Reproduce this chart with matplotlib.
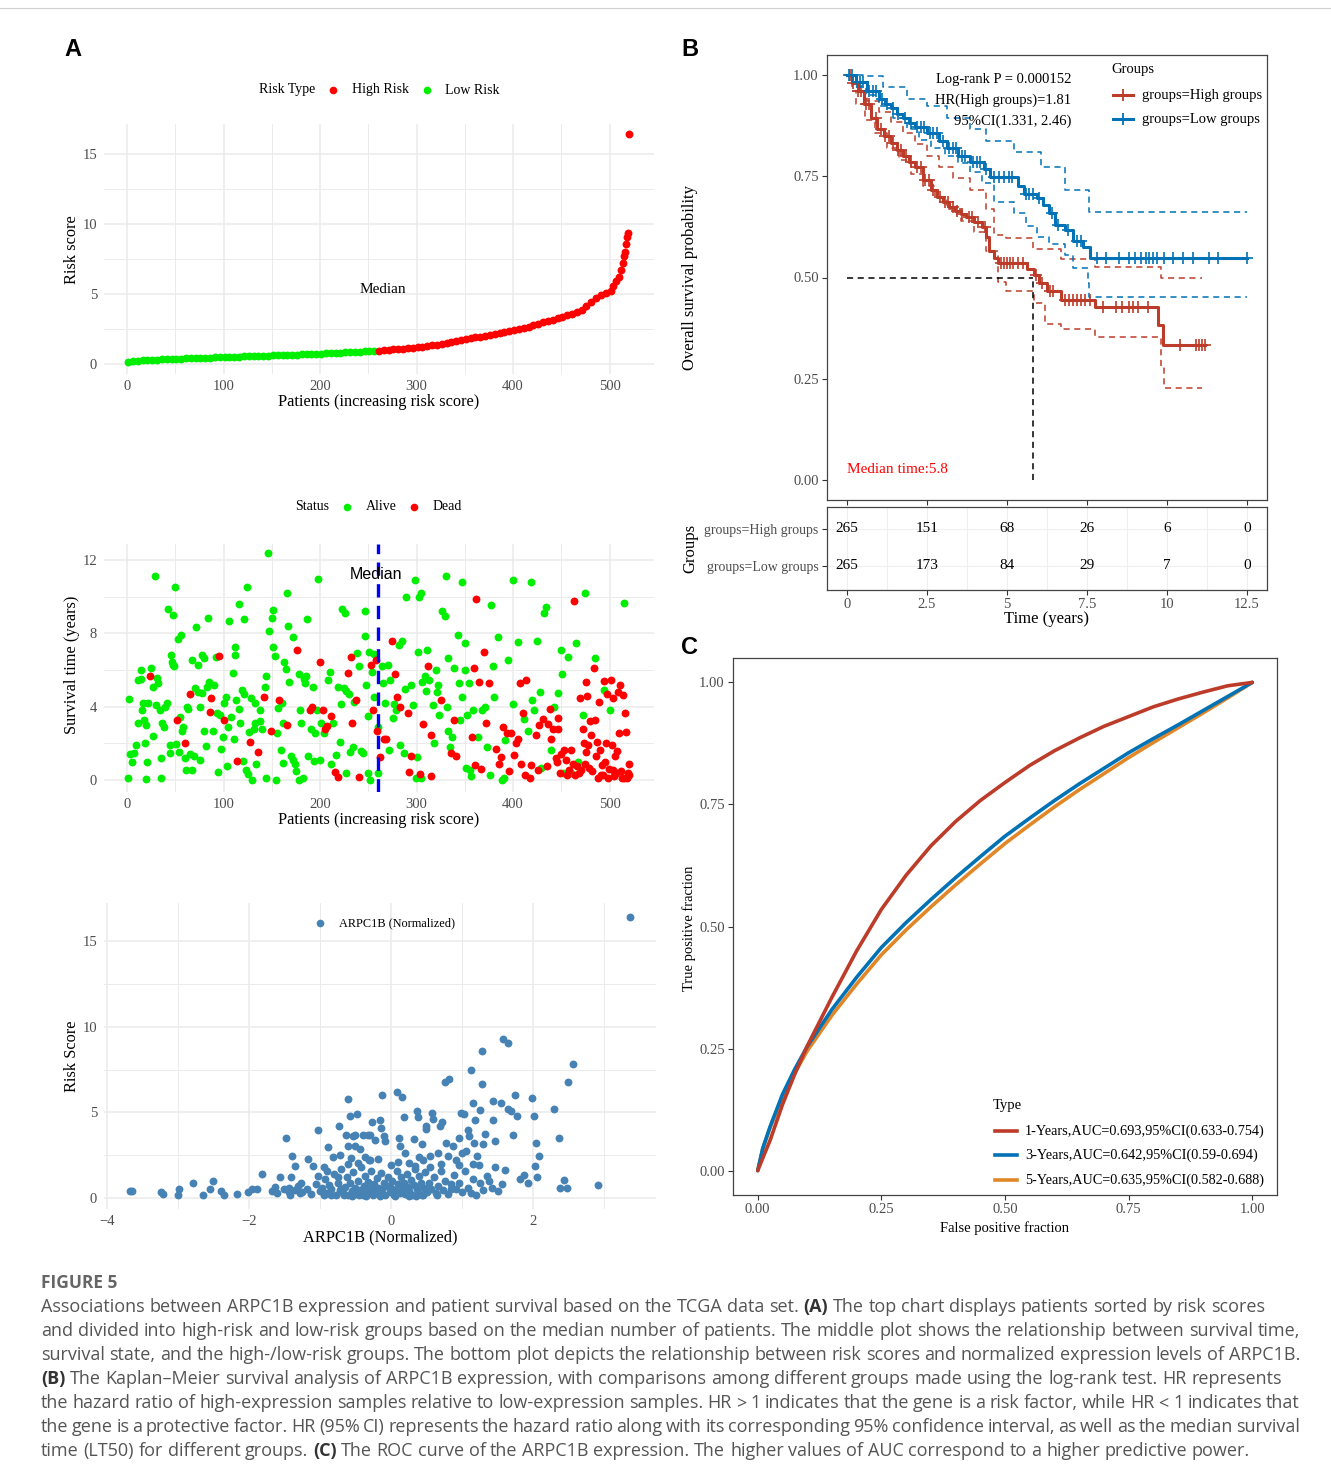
import matplotlib
matplotlib.use("Agg")
import matplotlib.pyplot as plt
import numpy as np
from matplotlib.lines import Line2D

# ── data ─────────────────────────────────────────────────────────────────────

# panel A top: sorted risk score (read every ~5 patients)
risk_patient = [1, 6, 11, 16, 21, 26, 31, 36, 41, 46, 51, 56, 61, 66, 71, 76, 81, 86,
                91, 96, 101, 106, 111, 116, 121, 126, 131, 136, 141, 146, 151, 156,
                161, 166, 171, 176, 181, 186, 191, 196, 201, 206, 211, 216, 221, 226,
                231, 236, 241, 246, 251, 256, 261, 266, 271, 276, 281, 286, 291, 296,
                301, 306, 311, 316, 321, 326, 331, 336, 341, 346, 351, 356, 361, 366,
                371, 376, 381, 386, 391, 396, 401, 406, 411, 416, 421, 426, 431, 436,
                441, 446, 451, 456, 461, 466, 471, 476, 481, 486, 491, 496, 501, 504,
                507, 510, 512, 514, 515, 516, 517, 518, 519, 520]
risk_score = [0.12, 0.20, 0.24, 0.27, 0.28, 0.30, 0.31, 0.33, 0.35, 0.36, 0.38, 0.39,
              0.40, 0.41, 0.43, 0.44, 0.45, 0.46, 0.47, 0.49, 0.50, 0.51, 0.52, 0.53,
              0.54, 0.55, 0.57, 0.58, 0.59, 0.60, 0.62, 0.63, 0.64, 0.66, 0.67, 0.68,
              0.70, 0.71, 0.72, 0.74, 0.75, 0.77, 0.78, 0.80, 0.81, 0.83, 0.85, 0.86,
              0.88, 0.90, 0.92, 0.94, 0.96, 0.99, 1.02, 1.05, 1.08, 1.11, 1.14, 1.18,
              1.21, 1.25, 1.29, 1.33, 1.38, 1.43, 1.50, 1.58, 1.66, 1.72, 1.78, 1.84,
              1.90, 1.96, 2.02, 2.09, 2.16, 2.22, 2.29, 2.36, 2.44, 2.52, 2.60, 2.68,
              2.78, 2.88, 2.98, 3.06, 3.15, 3.26, 3.38, 3.50, 3.60, 3.72, 3.86, 4.15,
              4.45, 4.70, 4.90, 5.05, 5.20, 5.60, 5.95, 6.25, 6.70, 7.20, 7.70, 8.00,
              8.60, 9.10, 9.35, 16.4]
median_patient = 260

# panel A middle: (patient, survival years) by status
alive_pts = np.array([
    (1, 0.13), (2, 4.4), (3, 1.4), (5, 1.0), (7, 1.45), (9, 1.9), (11, 3.1), (11, 5.45),
    (14, 5.5), (14, 6.0), (15, 3.8), (16, 4.2), (17, 3.3), (18, 2.0), (20, 3.0), (20, 0.05),
    (21, 1.0), (22, 4.2), (25, 6.1), (27, 2.4), (27, 5.1), (29, 11.1), (30, 4.1), (31, 5.55),
    (32, 5.3), (34, 3.8), (35, 1.2), (35, 0.13), (36, 3.1), (38, 2.9), (39, 4.0), (41, 4.2),
    (42, 9.3), (44, 1.9), (44, 1.45), (45, 6.8), (46, 6.45), (47, 6.3), (48, 9.0), (49, 6.2),
    (50, 10.5), (51, 1.95), (53, 7.7), (56, 7.9), (54, 1.55), (55, 3.45), (57, 2.7), (58, 2.9),
    (60, 1.2), (61, 0.55), (67, 0.55), (62, 4.0), (63, 3.85), (65, 1.4), (67, 6.55), (69, 1.3),
    (70, 5.0), (71, 8.35), (73, 6.3), (73, 4.8), (75, 4.0), (76, 1.1), (78, 4.75), (78, 6.8),
    (80, 6.65), (80, 2.7), (82, 1.85), (83, 5.05), (84, 8.85), (85, 5.35), (89, 2.65), (90, 5.2),
    (92, 6.7), (93, 3.65), (94, 0.45), (96, 3.55), (97, 1.7), (99, 2.35), (100, 4.2), (102, 4.55),
    (103, 0.75), (105, 2.9), (106, 8.65), (108, 3.45), (110, 5.85), (111, 2.25), (112, 7.25),
    (112, 6.8), (113, 4.35), (116, 3.85), (116, 9.6), (117, 3.1), (119, 4.9), (121, 4.7),
    (120, 1.05), (121, 8.8), (123, 0.55), (125, 0.35), (124, 10.5), (126, 2.6), (128, 4.45),
    (129, 0.0), (131, 2.8), (133, 4.2), (133, 3.1), (134, 0.9), (138, 3.2), (138, 3.8),
    (140, 2.8), (143, 5.1), (144, 0.13), (144, 5.7), (146, 12.4), (147, 8.1), (150, 8.85),
    (151, 9.25), (151, 7.25), (153, 6.75), (154, 0.0), (155, 2.55), (156, 3.95), (159, 1.65),
    (160, 4.2), (161, 0.95), (162, 3.1), (163, 6.45), (165, 6.05), (166, 10.2), (167, 8.4),
    (168, 5.35), (170, 1.3), (172, 7.8), (172, 1.1), (174, 0.9), (175, 0.5), (178, 5.8),
    (178, 0.03), (179, 3.8), (180, 3.1), (182, 0.13), (183, 5.5), (185, 5.65), (184, 5.3),
    (186, 8.8), (187, 1.3), (191, 2.8), (193, 5.1), (194, 1.05), (195, 2.55), (197, 3.8),
    (198, 10.95), (200, 1.1), (201, 3.1), (204, 2.55), (208, 5.45), (210, 5.9), (211, 0.9),
    (213, 3.1), (216, 1.35), (218, 5.1), (221, 2.1), (222, 4.15), (223, 9.35), (226, 9.1),
    (225, 5.0), (227, 0.4), (227, 4.85), (230, 4.7), (231, 1.55), (234, 1.8), (235, 4.25),
    (238, 6.95), (240, 6.2), (242, 1.6), (244, 1.5), (246, 7.85), (247, 9.2), (248, 5.2),
    (250, 3.5), (250, 0.37), (251, 7.0), (252, 0.03), (254, 5.9), (256, 4.55), (256, 6.9),
    (260, 0.4), (260, 2.9), (264, 6.2), (265, 5.3), (267, 4.2), (270, 6.25), (271, 1.65),
    (272, 5.45), (276, 3.4), (277, 4.15), (279, 3.8), (282, 7.35), (283, 1.9), (285, 7.6),
    (287, 1.45), (288, 4.95), (289, 10.0), (294, 5.2), (296, 4.1), (298, 10.9), (299, 0.13),
    (300, 1.25), (301, 7.0), (302, 10.0), (305, 10.2), (305, 0.1), (306, 5.35), (309, 5.7),
    (310, 4.85), (311, 7.1), (313, 5.45), (317, 4.1), (318, 2.0), (320, 6.0), (321, 4.8),
    (322, 5.2), (323, 3.55), (326, 9.2), (330, 11.1), (329, 8.95), (331, 4.0), (333, 2.7),
    (333, 6.65), (335, 1.8), (337, 2.35), (339, 6.1), (343, 7.9), (344, 5.3), (345, 3.25),
    (347, 10.8), (347, 4.55), (350, 7.45), (350, 6.0), (351, 0.65), (352, 3.55), (354, 5.3),
    (355, 0.55), (356, 0.2), (358, 3.8), (364, 2.35), (368, 3.8), (371, 4.0), (373, 1.8),
    (376, 0.27), (377, 9.55), (379, 6.2), (380, 4.55), (384, 7.8), (388, 0.03), (391, 0.1),
    (392, 2.2), (395, 6.55), (400, 10.9), (400, 4.15), (405, 7.55), (411, 3.35), (415, 2.7),
    (419, 10.8), (420, 4.35), (422, 3.8), (425, 7.6), (428, 4.8), (429, 0.65), (432, 9.1),
    (434, 9.45), (439, 1.65), (442, 4.0), (446, 4.75), (450, 7.1), (451, 5.8), (452, 0.4),
    (457, 6.7), (460, 0.37), (465, 7.5), (467, 1.0), (472, 3.55), (475, 10.2), (485, 6.65),
    (494, 4.9), (500, 3.8), (515, 9.65)])
dead_pts = np.array([
    (24, 5.7), (52, 3.25), (60, 2.0), (65, 4.7), (86, 3.7), (87, 4.45), (95, 6.75), (100, 3.3),
    (114, 1.05), (127, 2.05), (136, 1.55), (142, 4.55), (149, 2.65), (157, 4.35), (166, 3.0),
    (176, 7.1), (189, 3.8), (192, 4.0), (200, 6.45), (203, 3.8), (205, 2.8), (207, 2.95),
    (211, 3.5), (215, 0.45), (219, 0.18), (229, 5.85), (232, 6.7), (233, 3.1), (237, 4.35),
    (240, 0.18), (253, 6.3), (255, 3.8), (258, 6.55), (259, 2.7), (262, 1.25), (266, 2.25),
    (268, 2.25), (274, 7.6), (278, 5.8), (280, 4.55), (283, 4.0), (291, 3.65), (292, 0.45),
    (294, 1.3), (304, 0.35), (307, 3.05), (312, 6.2), (315, 2.45), (315, 0.2), (325, 4.35),
    (336, 1.45), (339, 3.25), (341, 1.3), (357, 2.35), (359, 6.1), (360, 0.8), (362, 9.85),
    (365, 5.35), (367, 0.6), (370, 7.0), (372, 3.1), (375, 5.3), (382, 1.7), (385, 0.9),
    (387, 1.25), (390, 2.9), (394, 2.55), (396, 0.5), (398, 2.55), (401, 1.35), (403, 2.0),
    (405, 2.25), (407, 5.3), (408, 0.9), (410, 3.65), (412, 0.27), (413, 5.45), (417, 0.1),
    (419, 0.8), (424, 2.45), (426, 0.55), (427, 3.0), (431, 3.35), (435, 0.75), (436, 3.05),
    (438, 3.9), (439, 2.25), (441, 2.8), (444, 1.2), (446, 3.4), (447, 2.8), (449, 0.37),
    (453, 1.65), (455, 1.1), (458, 0.55), (460, 1.65), (462, 0.9), (463, 9.75), (464, 0.27),
    (466, 0.75), (469, 4.45), (470, 0.55), (473, 2.0), (476, 1.55), (476, 5.35), (477, 4.6),
    (479, 0.65), (481, 2.45), (484, 6.1), (485, 3.25), (487, 2.1), (488, 0.13), (489, 4.25),
    (490, 1.65), (492, 0.8), (493, 0.27), (496, 2.0), (497, 4.7), (498, 0.1), (501, 5.45),
    (503, 0.55), (504, 4.45), (506, 1.3), (507, 0.37), (510, 2.55), (511, 5.2), (513, 0.13),
    (514, 4.65), (516, 3.65), (518, 0.13), (520, 0.9), (520, 0.27), (445, 1.0), (450, 1.4),
    (456, 0.3), (468, 0.4), (474, 0.9), (478, 1.9), (482, 0.5), (486, 1.3), (491, 0.3),
    (495, 1.0), (499, 0.6), (502, 1.9), (505, 0.2), (508, 1.6), (512, 0.5), (515, 0.1),
    (517, 2.6), (519, 0.4), (509, 4.8), (494, 5.4), (472, 2.8), (480, 3.2)])

# panel A bottom: (ARPC1B normalized, risk score)
arpc1b_pts = np.array([
    (-3.68, 0.39), (-3.65, 0.39), (-3.24, 0.35), (-3.21, 0.25), (-3.0, 0.2), (-2.98, 0.5),
    (-2.79, 0.88), (-2.65, 0.2), (-2.55, 0.5), (-2.51, 0.98), (-2.39, 0.39), (-2.35, 0.2),
    (-2.17, 0.23), (-2.02, 0.33), (-1.95, 0.5), (-1.89, 0.5), (-1.82, 1.4), (-1.68, 0.4),
    (-1.64, 0.64), (-1.56, 1.2), (-1.48, 3.5), (-1.44, 0.58), (-1.43, 0.33), (-1.41, 1.23),
    (-1.4, 2.45), (-1.35, 1.89), (-1.31, 0.68), (-1.28, 0.29), (-1.26, 0.88), (-1.17, 2.28),
    (-1.1, 1.85), (-1.03, 3.95), (-1.03, 1.27), (-0.95, 1.81), (-0.88, 2.98), (-0.82, 2.4),
    (-0.73, 4.23), (-0.72, 2.53), (-0.64, 3.65), (-0.61, 5.8), (-0.6, 3.02), (-0.58, 4.78),
    (-0.57, 2.34), (-0.54, 3.6), (-0.51, 3.65), (-0.5, 3.02), (-0.48, 4.93), (-0.47, 2.05),
    (-0.44, 2.87), (-0.4, 3.7), (-0.37, 2.38), (-0.33, 3.7), (-0.31, 2.24), (-0.29, 3.7),
    (-0.27, 4.44), (-0.23, 3.37), (-0.18, 2.28), (-0.16, 4.58), (-0.14, 4.09), (-0.13, 6.04),
    (-0.1, 3.6), (-0.09, 3.31), (0.0, 1.95), (0.09, 6.18), (0.11, 3.5), (0.13, 3.02),
    (0.16, 5.89), (0.18, 4.74), (0.2, 2.63), (0.26, 2.05), (0.32, 3.45), (0.34, 1.85),
    (0.37, 5.1), (0.38, 4.74), (0.43, 3.16), (0.45, 2.24), (0.49, 4.19), (0.49, 4.03),
    (0.55, 2.44), (0.57, 4.97), (0.59, 4.62), (0.66, 2.63), (0.69, 4.23), (0.72, 4.43),
    (0.76, 6.77), (0.82, 6.96), (0.77, 3.22), (0.8, 2.44), (0.87, 3.02), (0.92, 2.24),
    (0.95, 3.5), (0.98, 4.99), (1.0, 2.63), (1.03, 4.93), (1.06, 2.73), (1.08, 3.95),
    (1.1, 3.6), (1.13, 7.5), (1.15, 5.56), (1.17, 3.22), (1.18, 4.58), (1.21, 2.44),
    (1.24, 1.95), (1.25, 5.15), (1.28, 8.58), (1.28, 6.67), (1.29, 3.18), (1.33, 3.76),
    (1.38, 0.98), (1.43, 5.69), (1.44, 4.58), (1.47, 3.31), (1.47, 1.81), (1.55, 5.56),
    (1.58, 9.3), (1.65, 9.06), (1.61, 1.66), (1.64, 5.17), (1.69, 5.07), (1.72, 3.7),
    (1.74, 6.04), (1.78, 4.78), (1.81, 1.11), (1.87, 1.36), (1.93, 0.88), (1.99, 5.81),
    (2.01, 4.78), (2.03, 1.85), (2.04, 3.22), (2.06, 1.21), (2.08, 2.44), (2.3, 5.17),
    (2.37, 3.5), (2.38, 0.58), (2.43, 1.07), (2.48, 0.58), (2.49, 6.78), (2.56, 7.8),
    (2.91, 0.78), (3.37, 16.4),
    (-1.25, 0.35), (-1.18, 0.55), (-1.12, 0.25), (-1.05, 0.8), (-1.0, 0.4), (-0.97, 0.6),
    (-0.93, 1.1), (-0.9, 0.3), (-0.87, 0.75), (-0.84, 0.5), (-0.8, 1.4), (-0.78, 0.2),
    (-0.75, 0.9), (-0.72, 0.45), (-0.7, 1.7), (-0.68, 0.3), (-0.65, 0.65), (-0.62, 1.2),
    (-0.6, 0.2), (-0.58, 0.85), (-0.55, 0.4), (-0.53, 1.5), (-0.5, 0.6), (-0.48, 0.25),
    (-0.46, 1.0), (-0.44, 0.45), (-0.42, 1.8), (-0.4, 0.15), (-0.38, 0.7), (-0.36, 1.3),
    (-0.34, 0.35), (-0.32, 0.95), (-0.3, 0.55), (-0.28, 1.6), (-0.26, 0.2), (-0.24, 0.8),
    (-0.22, 0.4), (-0.2, 1.15), (-0.18, 0.6), (-0.16, 0.25), (-0.14, 1.45), (-0.12, 0.5),
    (-0.1, 0.9), (-0.08, 0.15), (-0.06, 0.7), (-0.04, 1.25), (-0.02, 0.35), (0.0, 0.6),
    (0.02, 1.0), (0.04, 0.2), (0.06, 0.45), (0.08, 1.6), (0.1, 0.8), (0.12, 0.3), (0.14, 1.2),
    (0.16, 0.55), (0.18, 0.9), (0.2, 0.25), (0.22, 1.4), (0.24, 0.65), (0.26, 0.4),
    (0.28, 1.05), (0.3, 0.2), (0.32, 0.75), (0.34, 1.7), (0.36, 0.5), (0.38, 0.3), (0.4, 1.3),
    (0.42, 0.85), (0.44, 0.15), (0.46, 0.6), (0.48, 1.5), (0.5, 0.35), (0.53, 0.9),
    (0.56, 0.55), (0.6, 1.2), (0.63, 0.3), (0.66, 0.7), (0.7, 1.6), (0.73, 0.45), (0.76, 1.0),
    (0.8, 0.25), (0.84, 0.8), (0.88, 1.35), (0.92, 0.5), (0.96, 0.9), (1.0, 0.35), (1.04, 1.6),
    (1.08, 0.6), (1.12, 0.3), (1.16, 1.1), (1.2, 0.2), (1.25, 0.85), (1.3, 0.45), (1.35, 1.3),
    (1.42, 0.6), (1.5, 0.4), (1.56, 0.8), (-1.6, 0.3), (-1.5, 0.5), (-1.42, 0.2), (-1.35, 0.45),
    (-0.95, 0.2), (-0.85, 0.15), (-0.66, 0.15), (-0.55, 0.12), (-0.35, 0.12), (-0.15, 0.1),
    (0.05, 0.1), (0.25, 0.12), (0.45, 0.15), (0.65, 0.2), (-0.9, 1.6), (-0.6, 2.0), (-0.3, 2.2),
    (0.1, 2.1), (0.4, 2.4), (0.7, 2.0), (-0.75, 1.25), (0.55, 1.8), (0.95, 1.9), (1.15, 2.0),
    (-0.45, 0.2), (-0.25, 0.3), (0.15, 0.35), (0.35, 0.1), (-0.7, 0.55), (0.85, 0.55)])

# panel B: Kaplan-Meier steps, confidence bands, censor times, numbers at risk
hi_time = [0, 0.15, 0.33, 0.52, 0.75, 0.95, 1.15, 1.38, 1.55, 1.75, 1.95, 2.12, 2.37, 2.62,
           2.8, 2.99, 3.2, 3.36, 3.55, 3.73, 3.98, 4.22, 4.35, 4.44, 4.59, 4.72, 5.64, 5.83,
           6.01, 6.26, 6.69, 7.75, 9.72, 9.87, 11.2]
hi_surv = [1.0, 0.98, 0.96, 0.93, 0.895, 0.866, 0.85, 0.833, 0.815, 0.80, 0.785, 0.772, 0.74,
           0.716, 0.70, 0.687, 0.675, 0.664, 0.657, 0.65, 0.636, 0.626, 0.60, 0.565, 0.547,
           0.536, 0.52, 0.505, 0.486, 0.467, 0.445, 0.427, 0.382, 0.332, 0.332]
hi_up_t = [0, 0.3, 0.64, 1.0, 1.38, 1.75, 2.12, 2.5, 2.86, 3.3, 3.85, 4.35, 4.6, 4.96, 5.8,
           6.7, 7.75, 9.8, 11.1]
hi_up_s = [1.0, 0.98, 0.937, 0.91, 0.885, 0.857, 0.829, 0.80, 0.772, 0.745, 0.716, 0.67,
           0.605, 0.597, 0.57, 0.546, 0.527, 0.50, 0.50]
hi_lo_t = [0, 0.15, 0.27, 0.55, 0.89, 1.25, 1.63, 2.0, 2.37, 2.75, 3.11, 3.55, 3.98, 4.35,
           4.72, 4.96, 5.83, 6.2, 6.7, 7.75, 9.8, 9.9, 11.1]
hi_lo_s = [1.0, 0.96, 0.93, 0.89, 0.857, 0.82, 0.79, 0.757, 0.725, 0.70, 0.67, 0.64, 0.613,
           0.566, 0.49, 0.467, 0.438, 0.386, 0.373, 0.352, 0.279, 0.226, 0.226]
lo_time = [0, 0.27, 0.64, 1.01, 1.2, 1.38, 1.55, 1.75, 1.95, 2.12, 2.49, 2.86, 3.11, 3.48,
           3.85, 4.28, 4.47, 5.33, 5.52, 5.95, 6.14, 6.32, 6.51, 6.81, 7.06, 7.37, 7.59, 12.5]
lo_surv = [1.0, 0.984, 0.96, 0.942, 0.93, 0.918, 0.905, 0.895, 0.883, 0.871, 0.857, 0.838,
           0.819, 0.80, 0.786, 0.768, 0.749, 0.725, 0.706, 0.697, 0.678, 0.66, 0.631, 0.617,
           0.589, 0.575, 0.547, 0.547]
lo_up_t = [0, 0.5, 1.14, 1.88, 2.49, 3.11, 3.85, 4.35, 5.21, 6.07, 6.81, 7.55, 12.5]
lo_up_s = [1.0, 0.998, 0.97, 0.942, 0.923, 0.895, 0.866, 0.838, 0.81, 0.772, 0.716, 0.662,
           0.662]
lo_lo_t = [0, 0.27, 0.6, 1.01, 1.45, 1.88, 2.25, 2.62, 3.05, 3.48, 3.85, 4.22, 4.59, 5.21,
           5.58, 5.95, 6.32, 6.81, 7.06, 7.53, 7.56, 12.5]
lo_lo_s = [1.0, 0.97, 0.95, 0.923, 0.895, 0.866, 0.84, 0.819, 0.80, 0.782, 0.76, 0.734,
           0.687, 0.66, 0.627, 0.60, 0.584, 0.556, 0.523, 0.486, 0.451, 0.451]
hi_cens = [0.1, 0.2, 0.35, 0.45, 0.6, 0.7, 0.9, 1.05, 1.2, 1.3, 1.45, 1.6, 1.7, 1.85, 2.0, 2.2,
           2.3, 2.45, 2.55, 2.7, 2.9, 3.05, 3.15, 3.3, 3.45, 3.6, 3.8, 3.9, 4.1, 4.3, 4.8, 4.9,
           5.0, 5.1, 5.2, 5.35, 5.5, 5.9, 6.1, 6.35, 6.45, 6.8, 6.95, 7.05, 7.2, 7.3, 7.45,
           7.6, 8.0, 8.4, 8.6, 8.8, 8.95, 9.1, 9.4, 10.4, 10.9, 11.0, 11.1, 11.2]
lo_cens = [0.05, 0.15, 0.3, 0.4, 0.5, 0.7, 0.8, 0.9, 1.1, 1.25, 1.45, 1.6, 1.8, 2.0, 2.2, 2.3,
           2.4, 2.6, 2.7, 2.8, 3.0, 3.2, 3.3, 3.4, 3.6, 3.7, 3.95, 4.05, 4.15, 4.35, 4.6, 4.75,
           4.9, 5.05, 5.15, 5.6, 5.7, 5.8, 6.0, 6.4, 6.6, 6.9, 7.2, 7.3, 7.8, 8.1, 8.5, 8.8,
           9.0, 9.2, 9.35, 9.45, 9.55, 9.7, 9.9, 10.2, 10.5, 10.8, 11.3, 11.6, 12.5]
median_time = 5.8
risk_times = [0, 2.5, 5, 7.5, 10, 12.5]
hi_at_risk = [265, 151, 68, 26, 6, 0]
lo_at_risk = [265, 173, 84, 29, 7, 0]

# panel C: ROC curves (false positive fraction, true positive fraction)
roc_fpr = [0, 0.01, 0.025, 0.05, 0.075, 0.1, 0.15, 0.2, 0.25, 0.3, 0.35, 0.4, 0.45, 0.5,
           0.55, 0.6, 0.65, 0.7, 0.75, 0.8, 0.85, 0.9, 0.95, 1.0]
roc_1y_tpr = [0, 0.025, 0.062, 0.135, 0.198, 0.255, 0.355, 0.45, 0.535, 0.605, 0.665, 0.715,
              0.758, 0.795, 0.83, 0.86, 0.886, 0.91, 0.93, 0.95, 0.966, 0.98, 0.993, 1.0]
roc_3y_tpr = [0, 0.045, 0.09, 0.156, 0.208, 0.254, 0.33, 0.396, 0.457, 0.508, 0.555, 0.6,
              0.643, 0.685, 0.722, 0.758, 0.792, 0.824, 0.856, 0.885, 0.913, 0.942, 0.971, 1.0]
roc_5y_tpr = [0, 0.044, 0.088, 0.15, 0.2, 0.245, 0.318, 0.382, 0.442, 0.493, 0.54, 0.585,
              0.628, 0.67, 0.708, 0.745, 0.78, 0.813, 0.846, 0.877, 0.907, 0.937, 0.968, 1.0]
roc_labels = ["1-Years,AUC=0.693,95%CI(0.633-0.754)",
              "3-Years,AUC=0.642,95%CI(0.59-0.694)",
              "5-Years,AUC=0.635,95%CI(0.582-0.688)"]

# ── style ────────────────────────────────────────────────────────────────────

W, H = 1331, 1481
SERIF = "Liberation Serif"
SANS = "Liberation Sans"
CAPF = "Open Sans"
GREY = "#4D4D4D"
GRID = "#EBEBEB"
RED, GREEN, STEEL = "#FF0000", "#00EE00", "#4682B4"
NEJM_RED, NEJM_BLUE, NEJM_ORANGE = "#BC3C29", "#0072B5", "#E18727"

plt.rcParams["font.family"] = [SERIF, "DejaVu Serif"]

fig = plt.figure(figsize=(W / 100, H / 100), dpi=100)


def add_ax(x0, y0, x1, y1):
    return fig.add_axes([x0 / W, 1 - y1 / H, (x1 - x0) / W, (y1 - y0) / H])


def ftext(x, y, s, **kw):
    return fig.text(x / W, 1 - y / H, s, **kw)


def fline(xs, ys, **kw):
    fig.add_artist(Line2D([x / W for x in xs], [1 - y / H for y in ys],
                          transform=fig.transFigure, **kw))


def minimal(ax, xlim, ylim, xmaj, xmin, ymaj, ymin):
    ax.set_xlim(*xlim)
    ax.set_ylim(*ylim)
    for s in ax.spines.values():
        s.set_visible(False)
    ax.set_xticks(xmaj)
    ax.set_xticks(xmin, minor=True)
    ax.set_yticks(ymaj)
    ax.set_yticks(ymin, minor=True)
    ax.grid(which="major", color=GRID, lw=1.1)
    ax.grid(which="minor", color=GRID, lw=0.7)
    ax.tick_params(which="both", length=0, labelcolor=GREY, labelsize=10.5)
    ax.tick_params(axis="x", pad=4)
    ax.tick_params(axis="y", pad=5)
    ax.set_axisbelow(True)


def boxed(ax):
    for s in ax.spines.values():
        s.set_color("#444444")
        s.set_linewidth(0.9)
    ax.tick_params(length=3.5, width=0.8, color="#333333", labelcolor=GREY, labelsize=10.5,
                   pad=2.5)


# top rule
fline([0, W], [8, 8], color="#D0D0D0", lw=0.8)

# ── panel A, top ─────────────────────────────────────────────────────────────
ax1 = add_ax(104, 124, 654, 374)
minimal(ax1, (-24, 546), (-0.71, 17.14), [0, 100, 200, 300, 400, 500],
        [50, 150, 250, 350, 450], [0, 5, 10, 15], [2.5, 7.5, 12.5])
rp = np.array(risk_patient)
rs = np.array(risk_score)
low = rp <= median_patient
ax1.scatter(rp[low], rs[low], s=32, color=GREEN, lw=0, zorder=3)
ax1.scatter(rp[~low], rs[~low], s=32, color=RED, lw=0, zorder=3)
ax1.text(median_patient + 5, 5.3, "Median", ha="center", va="center", fontsize=11)
ftext(379, 402, "Patients (increasing risk score)", ha="center", va="center", fontsize=11.8)
ftext(72, 250, "Risk score", ha="center", va="center", rotation=90, fontsize=11.8)
ftext(73, 50, "A", ha="center", va="center", fontsize=17, fontweight="bold", family=SANS)

ftext(287, 90, "Risk Type", ha="center", va="center", fontsize=10)
fline([333], [90], marker="o", ms=5.5, color=RED, mec="none")
ftext(352, 90, "High Risk", ha="left", va="center", fontsize=10)
fline([427], [90], marker="o", ms=5.5, color=GREEN, mec="none")
ftext(445, 90, "Low Risk", ha="left", va="center", fontsize=10)

# ── panel A, middle ──────────────────────────────────────────────────────────
ax2 = add_ax(104, 544, 654, 792)
minimal(ax2, (-24, 546), (-0.65, 12.87), [0, 100, 200, 300, 400, 500],
        [50, 150, 250, 350, 450], [0, 4, 8, 12], [2, 6, 10])
ax2.scatter(alive_pts[:, 0], alive_pts[:, 1], s=32, color=GREEN, lw=0, zorder=3)
ax2.scatter(dead_pts[:, 0], dead_pts[:, 1], s=32, color=RED, lw=0, zorder=3)
ax2.axvline(median_patient, color="#0000FF", lw=2.4, ls=(0, (4, 2.5)), zorder=4)
ax2.text(median_patient - 2, 11.2, "Median", ha="center", va="center", fontsize=11.5,
         family=SANS, zorder=5)
ftext(379, 820, "Patients (increasing risk score)", ha="center", va="center", fontsize=11.8)
ftext(72, 665, "Survival time (years)", ha="center", va="center", rotation=90, fontsize=11.8)

ftext(312, 507, "Status", ha="center", va="center", fontsize=10)
fline([347], [507], marker="o", ms=5.5, color=GREEN, mec="none")
ftext(366, 507, "Alive", ha="left", va="center", fontsize=10)
fline([414], [507], marker="o", ms=5.5, color=RED, mec="none")
ftext(433, 507, "Dead", ha="left", va="center", fontsize=10)

# ── panel A, bottom ──────────────────────────────────────────────────────────
ax3 = add_ax(104, 903, 656, 1209)
minimal(ax3, (-4.04, 3.73), (-0.64, 17.22), [-4, -2, 0, 2], [-3, -1, 1, 3],
        [0, 5, 10, 15], [2.5, 7.5, 12.5])
ax3.scatter(arpc1b_pts[:, 0], arpc1b_pts[:, 1], s=32, color=STEEL, lw=0, zorder=3)
ftext(380, 1237, "ARPC1B (Normalized)", ha="center", va="center", fontsize=11.8)
ftext(72, 1056, "Risk Score", ha="center", va="center", rotation=90, fontsize=11.8)
fline([320], [923], marker="o", ms=5.5, color=STEEL, mec="none")
ftext(339, 923, "ARPC1B (Normalized)", ha="left", va="center", fontsize=8.8)

# ── panel B ──────────────────────────────────────────────────────────────────
axB = add_ax(827, 55, 1267, 500)
boxed(axB)
axB.set_xlim(-0.625, 13.125)
axB.set_ylim(-0.05, 1.05)
axB.set_xticks(risk_times)
axB.set_xticklabels([])
axB.set_yticks([0, 0.25, 0.5, 0.75, 1.0])
axB.set_yticklabels(["0.00", "0.25", "0.50", "0.75", "1.00"])

for t, s, col in [(hi_up_t, hi_up_s, NEJM_RED), (hi_lo_t, hi_lo_s, NEJM_RED),
                  (lo_up_t, lo_up_s, NEJM_BLUE), (lo_lo_t, lo_lo_s, NEJM_BLUE)]:
    axB.step(t, s, where="post", color=col, lw=1.1, ls=(0, (4, 3)))
axB.step(hi_time, hi_surv, where="post", color=NEJM_RED, lw=2.2)
axB.step(lo_time, lo_surv, where="post", color=NEJM_BLUE, lw=2.2)


def step_at(times, surv, query):
    idx = np.searchsorted(times, query, side="right") - 1
    return np.array(surv)[idx]


axB.plot(hi_cens, step_at(hi_time, hi_surv, hi_cens), ls="none", marker="+", ms=8,
         mew=1.2, color=NEJM_RED)
axB.plot(lo_cens, step_at(lo_time, lo_surv, lo_cens), ls="none", marker="+", ms=8,
         mew=1.2, color=NEJM_BLUE)
axB.plot([0, median_time], [0.5, 0.5], color="black", lw=1.1, ls=(0, (4, 3)))
axB.plot([median_time, median_time], [0, 0.5], color="black", lw=1.1, ls=(0, (4, 3)))
axB.text(0, 0.01, "Median time:5.8", color="red", fontsize=11, ha="left", va="bottom")

ftext(1071, 80, "Log-rank P = 0.000152", ha="right", va="center", fontsize=10.5)
ftext(1071, 100, "HR(High groups)=1.81", ha="right", va="center", fontsize=10.5)
ftext(1071, 121, "95%CI(1.331, 2.46)", ha="right", va="center", fontsize=10.5)

ftext(1111, 69, "Groups", ha="left", va="center", fontsize=10.5)
fline([1113, 1133], [95, 95], color=NEJM_RED, lw=2.2)
fline([1123], [95], marker="+", ms=8, mew=1.3, color=NEJM_RED)
ftext(1142, 95, "groups=High groups", ha="left", va="center", fontsize=10.5)
fline([1113, 1133], [119, 119], color=NEJM_BLUE, lw=2.2)
fline([1123], [119], marker="+", ms=8, mew=1.3, color=NEJM_BLUE)
ftext(1142, 119, "groups=Low groups", ha="left", va="center", fontsize=10.5)

ftext(690, 278, "Overall survival probability", ha="center", va="center", rotation=90,
      fontsize=12)
ftext(690, 50, "B", ha="center", va="center", fontsize=17, fontweight="bold", family=SANS)

axT = add_ax(827, 507, 1267, 590)
boxed(axT)
axT.set_xlim(-0.625, 13.125)
axT.set_ylim(0.35, 2.595)
axT.set_xticks(risk_times)
axT.set_xticklabels(["0", "2.5", "5", "7.5", "10", "12.5"])
axT.set_xticks([1.25, 3.75, 6.25, 8.75, 11.25], minor=True)
axT.tick_params(which="minor", length=0)
axT.set_yticks([1, 2])
axT.set_yticklabels(["groups=Low groups", "groups=High groups"], fontsize=10)
axT.grid(which="both", color="#EFEFEF", lw=0.8)
axT.set_axisbelow(True)
for t, a, b in zip(risk_times, hi_at_risk, lo_at_risk):
    axT.text(t, 2, str(a), ha="center", va="center", fontsize=11)
    axT.text(t, 1, str(b), ha="center", va="center", fontsize=11)
ftext(1047, 619, "Time (years)", ha="center", va="center", fontsize=12)
ftext(690, 548, "Groups", ha="center", va="center", rotation=90, fontsize=12)

# ── panel C ──────────────────────────────────────────────────────────────────
axC = add_ax(733, 658, 1277, 1195)
boxed(axC)
axC.set_xlim(-0.05, 1.05)
axC.set_ylim(-0.05, 1.05)
ticks = [0, 0.25, 0.5, 0.75, 1.0]
tlabs = ["0.00", "0.25", "0.50", "0.75", "1.00"]
axC.set_xticks(ticks)
axC.set_xticklabels(tlabs)
axC.set_yticks(ticks)
axC.set_yticklabels(tlabs)
axC.plot(roc_fpr, roc_5y_tpr, color=NEJM_ORANGE, lw=2.6, solid_capstyle="round",
         solid_joinstyle="round")
axC.plot(roc_fpr, roc_3y_tpr, color=NEJM_BLUE, lw=2.6, solid_capstyle="round",
         solid_joinstyle="round")
axC.plot(roc_fpr, roc_1y_tpr, color=NEJM_RED, lw=2.6, solid_capstyle="round",
         solid_joinstyle="round")

ftext(993, 1105, "Type", ha="left", va="center", fontsize=10.5)
for yy, col, lab in zip([1131, 1155, 1180], [NEJM_RED, NEJM_BLUE, NEJM_ORANGE], roc_labels):
    fline([995, 1017], [yy, yy], color=col, lw=2.6)
    ftext(1025, yy, lab, ha="left", va="center", fontsize=10.3)

ftext(1005, 1228, "False positive fraction", ha="center", va="center", fontsize=10.5)
ftext(689, 928, "True positive fraction", ha="center", va="center", rotation=90,
      fontsize=10.5)
ftext(690, 648, "C", ha="center", va="center", fontsize=17, fontweight="bold", family=SANS)

# ── caption ──────────────────────────────────────────────────────────────────
CAP_COL = "#555555"
caption = [
    ([("Associations between ARPC1B expression and patient survival based on the TCGA "
       "data set.", False), ("(A)", True),
      ("The top chart displays patients sorted by risk scores", False)], False),
    ([("and divided into high-risk and low-risk groups based on the median number of "
       "patients. The middle plot shows the relationship between survival time,", False)], True),
    ([("survival state, and the high-/low-risk groups. The bottom plot depicts the "
       "relationship between risk scores and normalized expression levels of ARPC1B.",
       False)], True),
    ([("(B)", True), ("The Kaplan\u2013Meier survival analysis of ARPC1B expression, with "
                      "comparisons among different groups made using the log-rank test. HR "
                      "represents", False)], False),
    ([("the hazard ratio of high-expression samples relative to low-expression samples. "
       "HR > 1 indicates that the gene is a risk factor, while HR < 1 indicates that",
       False)], True),
    ([("the gene is a protective factor. HR (95% CI) represents the hazard ratio along "
       "with its corresponding 95% confidence interval, as well as the median survival",
       False)], True),
    ([("time (LT50) for different groups.", False), ("(C)", True),
      ("The ROC curve of the ARPC1B expression. The higher values of AUC correspond to a "
       "higher predictive power.", False)], False),
]

renderer = fig.canvas.get_renderer()

# pick the caption size so that the first line ends where it does in the figure
probe = ftext(0, 0, " ".join(s for s, _ in caption[0][0]), fontsize=12, family=CAPF)
CAP_SIZE = 12 * (1258 - 41) / probe.get_window_extent(renderer).width
probe.remove()

sp_a = ftext(0, 0, "a a", fontsize=CAP_SIZE, family=CAPF)
sp_b = ftext(0, 0, "aa", fontsize=CAP_SIZE, family=CAPF)
space_w = (sp_a.get_window_extent(renderer).width - sp_b.get_window_extent(renderer).width)
sp_a.remove()
sp_b.remove()

ftext(41, 1283, "FIGURE 5", ha="left", va="center", fontsize=12.5, family=CAPF,
      fontweight="bold", color="#666666")
X0, X1 = 41, 1300
for i, (pieces, justify) in enumerate(caption):
    y = 1312 + 24 * i
    words = []
    for seg, bold in pieces:
        for w in seg.split():
            words.append((w, bold))
    arts, widths = [], []
    for w, bold in words:
        t = ftext(0, y, w, ha="left", va="baseline", fontsize=CAP_SIZE, family=CAPF,
                  fontweight="bold" if bold else "normal",
                  color="#333333" if bold else CAP_COL)
        arts.append(t)
        widths.append(t.get_window_extent(renderer).width)
    gap = (X1 - X0 - sum(widths)) / (len(words) - 1) if justify else space_w
    gap = max(gap, 0.5 * space_w)
    x = X0
    for t, wd in zip(arts, widths):
        t.set_x(x / W)
        x += wd + gap

fig.savefig("out.png", dpi=100)
